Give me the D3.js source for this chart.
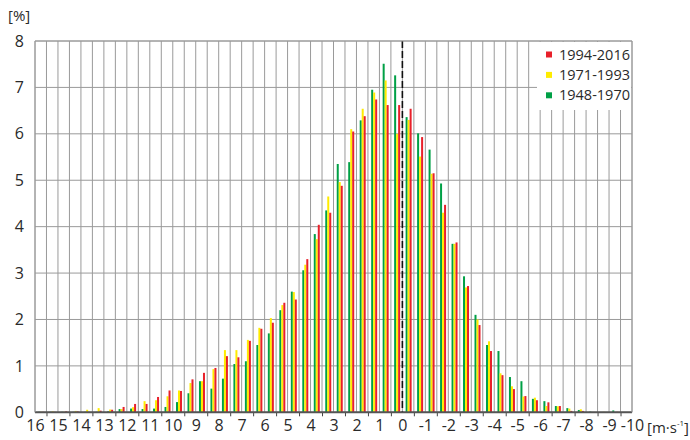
<!DOCTYPE html>
<html>
<head>
<meta charset="utf-8">
<script src="https://cdn.jsdelivr.net/npm/d3@7"></script>
<style>
  body { margin: 0; background: #fff; }
  svg text { font-family: "Open Sans", "Noto Sans", sans-serif; fill: #2a2a2a; }
</style>
</head>
<body>
<svg id="chart" width="690" height="440"></svg>
<script>
// speed classes, 0.5 m/s wide, given by their centre
const bins = [15.75, 15.25, 14.75, 14.25, 13.75, 13.25, 12.75, 12.25, 11.75, 11.25, 10.75, 10.25,
  9.75, 9.25, 8.75, 8.25, 7.75, 7.25, 6.75, 6.25, 5.75, 5.25, 4.75, 4.25, 3.75, 3.25,
  2.75, 2.25, 1.75, 1.25, 0.75, 0.25, -0.25, -0.75, -1.25, -1.75, -2.25, -2.75, -3.25, -3.75,
  -4.25, -4.75, -5.25, -5.75, -6.25, -6.75, -7.25, -7.75, -8.25, -8.75, -9.25, -9.75];

const p1948 = [0.01, 0.01, 0.01, 0.01, 0.01, 0.01, 0.02, 0.07, 0.08, 0.07, 0.08, 0.115,
  0.22, 0.41, 0.67, 0.51, 0.725, 1.04, 1.10, 1.45, 1.70, 2.20, 2.60, 3.06, 3.84, 4.35,
  5.35, 5.39, 6.29, 6.95, 7.51, 7.26, 6.36, 6.01, 5.66, 4.93, 3.63, 2.93, 2.10, 1.45,
  1.32, 0.76, 0.67, 0.29, 0.24, 0.135, 0.09, 0.05, 0.015, 0.005, 0.04, 0.005];

const p1971 = [0.01, 0.02, 0.01, 0.03, 0.055, 0.09, 0.06, 0.07, 0.11, 0.24, 0.26, 0.345,
  0.47, 0.63, 0.67, 0.93, 1.34, 1.34, 1.56, 1.82, 2.03, 2.31, 2.59, 3.18, 3.73, 4.65,
  4.96, 6.10, 6.54, 6.89, 7.15, 6.00, 6.30, 5.51, 5.14, 4.30, 3.63, 2.69, 2.00, 1.53,
  0.84, 0.56, 0.34, 0.315, 0.135, 0.13, 0.08, 0.065, 0.005, 0.01, 0.005, 0.005];

const p1994 = [0.01, 0.01, 0.02, 0.02, 0.01, 0.035, 0.055, 0.115, 0.18, 0.18, 0.33, 0.47,
  0.46, 0.71, 0.85, 0.955, 1.21, 1.185, 1.54, 1.80, 1.93, 2.36, 2.43, 3.30, 4.04, 4.30,
  4.88, 6.05, 6.38, 6.74, 6.62, 6.62, 6.54, 5.93, 5.15, 4.47, 3.66, 2.72, 1.88, 1.32,
  0.80, 0.50, 0.35, 0.26, 0.215, 0.135, 0.03, 0.03, 0.005, 0.005, 0.01, 0.005];

const seriesNames = ["1948-1970", "1971-1993", "1994-2016"];
const seriesValues = [p1948, p1971, p1994];
const colors = ["#00a046", "#ffec00", "#e8202a"];

const xLabels = [16, 15, 14, 13, 12, 11, 10, 9, 8, 7, 6, 5, 4, 3, 2, 1, 0,
  -1, -2, -3, -4, -5, -6, -7, -8, -9, -10];
const yLabels = [0, 1, 2, 3, 4, 5, 6, 7, 8];

const svg = d3.select("#chart");
const plotL = 35, plotR = 632, plotT = 41, plotB = 412.3;

const x = d3.scaleLinear().domain([16, -10]).range([plotL, plotR]);
const y = d3.scaleLinear().domain([0, 8]).range([plotB, plotT]);
const sub = d3.scaleBand().domain(seriesNames).range([-3, 3]);

// grid
const grid = svg.append("g").attr("stroke", "#9a9a9a").attr("stroke-width", 1);
grid.selectAll(".v").data(x.ticks(52)).join("line")
  .attr("x1", (d) => x(d)).attr("x2", (d) => x(d))
  .attr("y1", plotT).attr("y2", plotB);
grid.selectAll(".h").data(yLabels).join("line")
  .attr("x1", plotL).attr("x2", plotR)
  .attr("y1", (d) => y(d)).attr("y2", (d) => y(d));

// bars
const rows = [];
bins.forEach((b, i) => {
  seriesNames.forEach((s, j) => {
    rows.push({ bin: b, series: s, value: seriesValues[j][i], color: colors[j] });
  });
});
svg.append("g").selectAll("rect").data(rows).join("rect")
  .attr("x", (d) => x(d.bin) + sub(d.series) + 0.5)
  .attr("width", sub.bandwidth())
  .attr("y", (d) => y(d.value))
  .attr("height", (d) => plotB - y(d.value))
  .attr("fill", (d) => d.color);

// zero line
svg.append("line")
  .attr("x1", x(0)).attr("x2", x(0))
  .attr("y1", plotT).attr("y2", plotB)
  .attr("stroke", "#111").attr("stroke-width", 1.6)
  .attr("stroke-dasharray", "7,3");

// bottom axis: ticks on class borders, labels on integers
const halfTicks = x.ticks(52).filter((d) => Math.abs(d % 1) === 0.5);
const xTickAxis = svg.append("g")
  .attr("transform", `translate(0,${plotB})`)
  .call(d3.axisBottom(x).tickValues(halfTicks).tickSize(4).tickFormat(""));
xTickAxis.select(".domain").remove();
xTickAxis.selectAll("line").attr("stroke", "#444");

svg.append("line")
  .attr("x1", plotL).attr("x2", plotR)
  .attr("y1", plotB).attr("y2", plotB)
  .attr("stroke", "#555").attr("stroke-width", 2);

const xLabelAxis = svg.append("g")
  .attr("transform", `translate(0,${plotB})`)
  .call(d3.axisBottom(x).tickValues(xLabels).tickSize(0).tickPadding(7)
    .tickFormat((d) => String(d)));
xLabelAxis.select(".domain").remove();
xLabelAxis.selectAll("text").style("font-size", "16px").attr("fill", "#2a2a2a")
  .style("font-family", "'Open Sans', sans-serif");

const yAxis = svg.append("g")
  .attr("transform", `translate(${plotL},0)`)
  .call(d3.axisLeft(y).tickValues(yLabels).tickSize(0).tickPadding(11)
    .tickFormat((d) => String(d)));
yAxis.select(".domain").remove();
yAxis.selectAll("text").style("font-size", "16px").attr("fill", "#2a2a2a")
  .style("font-family", "'Open Sans', sans-serif");

// unit labels
svg.append("text").attr("x", 8).attr("y", 21)
  .style("font-size", "15px").text("[%]");
const unit = svg.append("text").attr("x", 647).attr("y", 433)
  .style("font-size", "15px");
unit.append("tspan").text("[m·s");
unit.append("tspan").attr("dy", -7).style("font-size", "8px").text("-1");
unit.append("tspan").attr("dy", 7).text("]");

// legend
svg.append("rect")
  .attr("x", 537).attr("y", 42).attr("width", 94).attr("height", 68)
  .attr("fill", "#fff");
const legendOrder = [2, 1, 0];
const legend = svg.append("g").selectAll("g").data(legendOrder).join("g")
  .attr("transform", (d, i) => `translate(546,${54.5 + i * 20.4})`);
legend.append("rect")
  .attr("x", 0).attr("y", -3).attr("width", 6).attr("height", 6)
  .attr("fill", (d) => colors[d]);
legend.append("text")
  .attr("x", 13).attr("dy", "0.35em")
  .style("font-size", "14.5px")
  .text((d) => seriesNames[d]);

// plot border on top and right
svg.append("path")
  .attr("d", `M${plotL},${plotB}V${plotT}H${plotR}V${plotB}`)
  .attr("fill", "none").attr("stroke", "#9a9a9a");
</script>
</body>
</html>
